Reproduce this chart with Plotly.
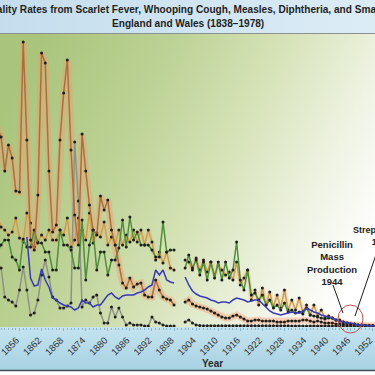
import base64
import plotly.graph_objects as go

# ---------------- data (deaths per million) ----------------
years = list(range(1850, 1955))

scarlet_fever = [
    990, 945, 775, 905, 840, 675, 670, 1420, 930, 430,      # 1850-1859
    380, 655, 1365, 1315, 775, 470, 505, 930, 1165, 1330,   # 1860-1869
    880, 555, 405, 960, 775, 605, 480, 455, 650, 580,       # 1870-1879
    630, 480, 405, 305, 215, 190, 240, 195, 210, 215,       # 1880-1889
    155, 145, 145, 230, 180, 145, 135, 130, 105, None,      # 1890-1899
    None, 120, 130, 110, 100, 95, 90, 85, 75, 65,           # 1900-1909
    55, 45, 40, 40, 50, 55, 45, 35, 25, 25,                 # 1910-1919
    30, 30, 25, 25, 25, 25, 20, 20, 20, 25,                 # 1920-1929
    25, 25, 25, 30, 30, 25, 20, 25, 20, 15,                 # 1930-1939
    15, 15, 10, 10, 10, 5, 5, 5, 5, 3,                      # 1940-1949
    2, 2, 1, 1, 1]                                          # 1950-1954

whooping_cough = [
    370, 405, 430, 430, 345, 330, 280, 435, 395, 395,
    480, 415, 415, 370, 370, 280, 280, 480, 405, 405,
    380, 290, 290, 530, 230, 405, 480, 280, 370, 370,
    255, 330, 330, 390, 530, 395, 545, 430, 470, 405,
    405, 405, 380, 345, 345, 520, 370, 380, 380, None,
    None, 290, 355, 290, 330, 255, 320, 230, 320, 240,
    320, 230, 320, 240, 280, 420, 230, 180, 280, 155,
    165, 130, 155, 105, 130, 90, 105, 80, 115, 70,
    80, 65, 70, 60, 90, 55, 50, 45, 40, 35,
    40, 40, 30, 25, 20, 15, 10, 10, 5, 5,
    2, 2, 1, 1, 1]

measles = [
    545, 495, 480, 455, 470, 540, 440, 420, 565, 515,
    395, 420, 455, 430, 480, 430, 430, 480, 455, 540,
    395, 430, 540, 480, 430, 565, 415, 465, 445, 520,
    405, 445, 405, 480, 405, 455, 420, 480, 420, 480,
    405, 480, 420, 330, 370, 315, 370, 290, 280, None,
    None, 330, 320, 280, 340, 280, 330, 270, 320, 255,
    305, 280, 255, 270, 230, 320, 205, 240, 280, 130,
    180, 105, 190, 105, 170, 95, 155, 90, 180, 80,
    130, 80, 140, 70, 105, 55, 105, 50, 80, 40,
    50, 40, 30, 30, 20, 15, 10, 10, 5, 5,
    2, 2, 1, 1, 1]

diphtheria = [
    None, None, None, None, None, None, None, None, 445, 240,
    200, 205, 285, 230, 195, 140, 130, 115, 105, 100,
    95, 80, 90, 130, 115, 115, 95, 105, 105, 130,
    155, 165, 145, 135, 150, 155, 155, 155, 165, 170,
    180, 195, 205, 280, 255, 280, 230, 220, 215, None,
    None, 245, 205, 175, 160, 150, 145, 140, 130, 125,
    115, 120, 120, 115, 130, 140, 135, 130, 120, 125,
    130, 130, 110, 95, 75, 65, 60, 55, 60, 65,
    70, 65, 65, 75, 90, 80, 70, 65, 55, 50,
    45, 40, 30, 25, 20, 15, 15, 10, 5, 5,
    2, 1, 1, 1, 1]

smallpox = [
    290, 290, 145, 130, 120, 100, 180, 295, 180, 55,
    65, 130, 255, 330, 245, 145, 130, 90, 90, 100,
    115, 920, 625, 95, 130, 115, 145, 155, 65, 15,
    15, 95, 45, 90, 45, 5, 15, 5, 5, 5,
    0, 0, 45, 20, 15, 5, 0, 0, 0, None,
    None, 20, 30, 15, 5, 2, 1, 1, 1, 1,
    1, 1, 1, 1, 1, 1, 1, 1, 1, 1,
    1, 1, 1, 1, 1, 1, 1, 1, 1, 1,
    0, 0, 0, 0, 0, 0, 0, 0, 0, 0,
    0, 0, 0, 0, 0, 0, 0, 0, 0, 0,
    0, 0, 0, 0, 0]

tick_years = list(range(1856, 1953, 6))
title_line1 = "Mortality Rates from Scarlet Fever, Whooping Cough, Measles, Diphtheria, and Smallpox"
title_line2 = "England and Wales (1838\u20131978)"

# ---------------- figure ----------------
W, H = 375, 375
T, B = 34, 48
PH = H - T - B


def py(p):
    return (H - B - p) / PH


def svg_uri(svg):
    return "data:image/svg+xml;base64," + base64.b64encode(svg.encode()).decode()


plot_bg = svg_uri(
    '<svg xmlns="http://www.w3.org/2000/svg" width="200" height="200" viewBox="0 0 200 200" preserveAspectRatio="none">'
    '<defs><linearGradient id="g" x1="0" y1="0.3" x2="1" y2="0.7">'
    '<stop offset="0" stop-color="#a9c57c"/><stop offset="0.3" stop-color="#bcd295"/>'
    '<stop offset="0.55" stop-color="#d5e2b6"/><stop offset="0.8" stop-color="#eef3e2"/>'
    '<stop offset="1" stop-color="#ffffff"/></linearGradient></defs>'
    '<rect width="200" height="200" fill="url(#g)"/></svg>')

title_bg = svg_uri(
    '<svg xmlns="http://www.w3.org/2000/svg" width="200" height="20" viewBox="0 0 200 20" preserveAspectRatio="none">'
    '<defs><linearGradient id="t" x1="0" y1="0" x2="1" y2="0">'
    '<stop offset="0" stop-color="#c4dded"/><stop offset="1" stop-color="#dcecf5"/></linearGradient></defs>'
    '<rect width="200" height="20" fill="url(#t)"/></svg>')

axis_bg = svg_uri(
    '<svg xmlns="http://www.w3.org/2000/svg" width="20" height="200" viewBox="0 0 20 200" preserveAspectRatio="none">'
    '<defs><linearGradient id="a" x1="0" y1="0" x2="0" y2="1">'
    '<stop offset="0" stop-color="#c5e4f0"/><stop offset="1" stop-color="#a7d1e2"/></linearGradient></defs>'
    '<rect width="20" height="200" fill="url(#a)"/></svg>')

fig = go.Figure()

# glow behind scarlet fever and measles
fig.add_trace(go.Scatter(x=years, y=scarlet_fever, mode="lines", hoverinfo="skip",
                         line=dict(color="rgba(246,150,110,0.38)", width=7)))
fig.add_trace(go.Scatter(x=years, y=measles, mode="lines", hoverinfo="skip",
                         line=dict(color="rgba(246,170,110,0.25)", width=5)))

marker = dict(color="#1e1e1e", size=3)
fig.add_trace(go.Scatter(x=years, y=smallpox, mode="lines+markers", name="Smallpox",
                         line=dict(color="#8e9385", width=1.5), marker=marker))
fig.add_trace(go.Scatter(x=years, y=measles, mode="lines+markers", name="Measles",
                         line=dict(color="#c7a050", width=1.5), marker=marker))
fig.add_trace(go.Scatter(x=years, y=whooping_cough, mode="lines+markers", name="Whooping Cough",
                         line=dict(color="#4f8e3b", width=1.5), marker=marker))
fig.add_trace(go.Scatter(x=years, y=scarlet_fever, mode="lines+markers", name="Scarlet Fever",
                         line=dict(color="#a8703e", width=1.5), marker=marker))
fig.add_trace(go.Scatter(x=years, y=diphtheria, mode="lines", name="Diphtheria",
                         line=dict(color="#3a3ab6", width=1.5)))

x0 = 1850.7
x1 = x0 + W / 3.68

note_font = dict(size=9.5, color="#1e1e1e")

fig.update_layout(
    width=W, height=H,
    margin=dict(l=0, r=0, t=T, b=B, pad=0),
    paper_bgcolor="#ffffff",
    plot_bgcolor="rgba(0,0,0,0)",
    showlegend=False,
    font=dict(family="Arial, Liberation Sans, sans-serif", color="#333333"),
    xaxis=dict(range=[x0, x1], tickmode="array", tickvals=tick_years,
               ticktext=[str(t) for t in tick_years], tickangle=-45,
               tickfont=dict(size=9.5, color="#333333"),
               ticklabeloverflow="allow", ticklabelshift=-3,
               ticks="outside", ticklen=3, tickcolor="#8ab4c6", tickwidth=1,
               minor=dict(dtick=1, tick0=1850, ticks="outside", ticklen=2, tickcolor="#8ab4c6"),
               showgrid=False, zeroline=False, showline=False, fixedrange=True,
               automargin=False),
    yaxis=dict(range=[-5, 1460], visible=False, fixedrange=True, automargin=False),
    images=[
        dict(source=plot_bg, xref="paper", yref="paper", x=0, y=1, sizex=1, sizey=1,
             sizing="stretch", layer="below", xanchor="left", yanchor="top"),
        dict(source=title_bg, xref="paper", yref="paper", x=0, y=py(0), sizex=1, sizey=py(0) - py(33),
             sizing="stretch", layer="below", xanchor="left", yanchor="top"),
        dict(source=axis_bg, xref="paper", yref="paper", x=0, y=0, sizex=1, sizey=py(327) - py(370),
             sizing="stretch", layer="below", xanchor="left", yanchor="top"),
    ],
    shapes=[
        dict(type="line", xref="paper", yref="paper", x0=0, x1=1, y0=py(33.5), y1=py(33.5),
             line=dict(color="#8c9090", width=1)),
        dict(type="line", xref="paper", yref="paper", x0=0, x1=1, y0=py(370.5), y1=py(370.5),
             line=dict(color="#3e4c56", width=1.5)),
        dict(type="circle", xref="paper", yref="paper", x0=338 / W, x1=363 / W,
             y0=py(333), y1=py(305), line=dict(color="#c0504d", width=1), layer="above"),
        # pointer lines of the two notes
        dict(type="line", xref="paper", yref="paper", x0=333 / W, y0=py(285), x1=343 / W, y1=py(313),
             line=dict(color="#1e1e1e", width=1), layer="above"),
        dict(type="line", xref="paper", yref="paper", x0=380 / W, y0=py(243), x1=355 / W, y1=py(316),
             line=dict(color="#1e1e1e", width=1), layer="above"),
    ],
    annotations=[
        dict(text="<b>" + title_line1 + "</b>", xref="paper", yref="paper", x=0.5, y=py(10),
             xanchor="center", yanchor="middle", showarrow=False,
             font=dict(size=10.1, color="#1f1f1f")),
        dict(text="<b>" + title_line2 + "</b>", xref="paper", yref="paper", x=0.5, y=py(24),
             xanchor="center", yanchor="middle", showarrow=False,
             font=dict(size=10.1, color="#1f1f1f")),
        dict(text="<b>Year</b>", xref="paper", yref="paper", x=212 / W, y=py(363),
             xanchor="center", yanchor="middle", showarrow=False,
             font=dict(size=10, color="#2a2a2a")),
        dict(text="<b>Penicillin<br>Mass<br>Production<br>1944</b>", xref="paper", yref="paper",
             x=332 / W, y=py(263), xanchor="center", yanchor="middle", showarrow=False,
             font=note_font, align="center"),
        dict(text="<b>Streptomycin<br>1947</b>", xref="paper", yref="paper",
             x=351 / W, y=py(223), xanchor="left", yanchor="top", showarrow=False,
             font=dict(size=9, color="#1e1e1e"), align="center"),
    ],
)

fig.write_html("out.html", config={"displayModeBar": False, "staticPlot": True},
               post_script="document.body.style.margin='0';document.body.style.overflow='hidden';")
